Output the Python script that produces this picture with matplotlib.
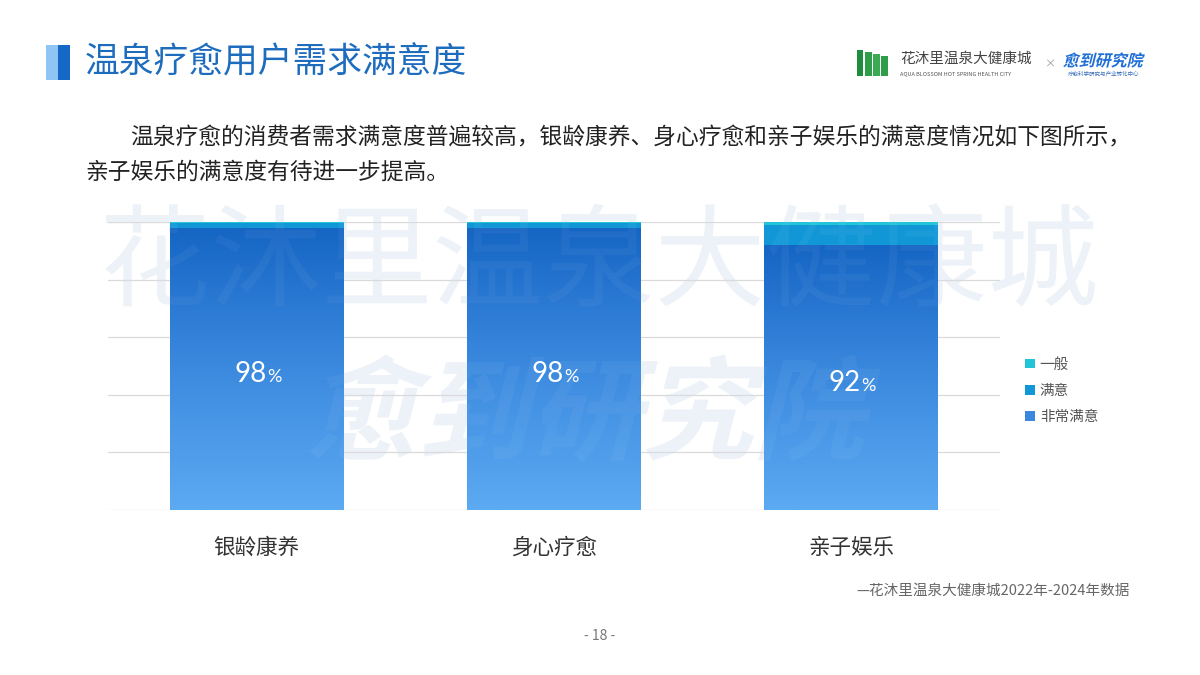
import matplotlib.pyplot as plt
import numpy as np
from matplotlib.colors import LinearSegmentedColormap
from matplotlib.patches import Rectangle, Patch, PathPatch
from matplotlib.textpath import TextPath
from matplotlib.font_manager import FontProperties
from matplotlib.transforms import Affine2D

plt.rcParams['font.family'] = ['Noto Sans CJK SC', 'DejaVu Sans']

categories = ['银龄康养', '身心疗愈', '亲子娱乐']
very_satisfied = [98, 98, 92]
satisfied = [1.5, 1.5, 7]
average = [0.5, 0.5, 1]
series_names = ['一般', '满意', '非常满意']
y_ticks = [0, 20, 40, 60, 80, 100]

title = '温泉疗愈用户需求满意度'
para1 = '温泉疗愈的消费者需求满意度普遍较高，银龄康养、身心疗愈和亲子娱乐的满意度情况如下图所示，'
para2 = '亲子娱乐的满意度有待进一步提高。'
source = '—花沐里温泉大健康城2022年-2024年数据'
page = '- 18 -'

c_avg = '#22C4D8'
c_sat = '#1197D6'
grad = LinearSegmentedColormap.from_list('g', ['#5CAAF2', '#3C8ADF', '#1565C4'])

fig = plt.figure(figsize=(12, 6.75), dpi=100)
W, H = 1200, 675


def watermark(text, cx, cy, size, weight, skew, color, alpha, z):
    prop = FontProperties(family='Noto Sans CJK SC', weight=weight)
    tp = TextPath((0, 0), text, size=size, prop=prop)
    tp = Affine2D().skew_deg(skew, 0).transform_path(tp)
    ext = tp.get_extents()
    tr = Affine2D().translate(-(ext.x0 + ext.x1) / 2, -(ext.y0 + ext.y1) / 2).translate(cx, H - cy)
    tr = tr + Affine2D().scale(1 / W, 1 / H) + fig.transFigure
    p = PathPatch(tp, transform=tr, facecolor=color, edgecolor='none', alpha=alpha, zorder=z)
    fig.add_artist(p)


# watermark layers (below and above chart)
for col, a, z in [('#EDF2F8', 1.0, -1), ('white', 0.045, 3)]:
    watermark('花沐里温泉大健康城', 600, 255, 111, 'light', 0, col, a, z)
    watermark('愈到研究院', 595, 408, 112, 'bold', 14, col, a, z)

ax = fig.add_axes([108 / W, 1 - 510 / H, 892 / W, 288 / H])
ax.set_facecolor('none')
ax.set_zorder(1)

x = np.arange(len(categories))
width = 0.585
bars = ax.bar(x, very_satisfied, width, color='#3C8ADF', zorder=2)
gimg = np.linspace(0, 1, 256).reshape(-1, 1)
for b in bars:
    im = ax.imshow(gimg, extent=[b.get_x(), b.get_x() + b.get_width(), 0, b.get_height()],
                   origin='lower', aspect='auto', cmap=grad, zorder=2.5)
    im.set_clip_path(b)
bottom2 = [v for v in very_satisfied]
ax.bar(x, satisfied, width, bottom=bottom2, color=c_sat, zorder=2)
bottom3 = [a + b for a, b in zip(very_satisfied, satisfied)]
ax.bar(x, average, width, bottom=bottom3, color=c_avg, zorder=2)

for xi, v in zip(x, very_satisfied):
    ax.annotate(str(v), (xi, v / 2), xytext=(7, -4), textcoords='offset points',
                ha='right', va='center', color='white', fontsize=20, family='Lato',
                zorder=4)
    ax.annotate('%', (xi, v / 2), xytext=(7.5, -6), textcoords='offset points',
                ha='left', va='center', color='white', fontsize=13, family='Lato',
                zorder=4)

ax.set_xlim(-0.5, 2.5)
ax.set_ylim(0, 100)
ax.set_yticks(y_ticks)
ax.yaxis.grid(True, color='#DADADA', linewidth=0.9, zorder=0)
ax.set_axisbelow(True)
ax.tick_params(axis='y', left=False, labelleft=False)
ax.tick_params(axis='x', bottom=False, pad=16, labelsize=15.5, labelcolor='#333333')
ax.set_xticks(x)
ax.set_xticklabels(categories)
for s in ax.spines.values():
    s.set_visible(False)

handles = [Patch(facecolor=c_avg), Patch(facecolor=c_sat), Patch(facecolor='#3C86DE')]
fig.legend(handles, series_names, loc='center left', bbox_to_anchor=(1012 / W, 1 - 391 / H),
           frameon=False, fontsize=10.5, labelcolor='#555555', handlelength=0.65,
           handleheight=0.65, handletextpad=0.35, labelspacing=0.85)

# title block
fig.add_artist(Rectangle((46 / W, 1 - 80 / H), 12 / W, 35 / H, transform=fig.transFigure,
                         facecolor='#8EC5F5', edgecolor='none'))
fig.add_artist(Rectangle((58 / W, 1 - 80 / H), 12 / W, 35 / H, transform=fig.transFigure,
                         facecolor='#1668C6', edgecolor='none'))
fig.text(85 / W, 1 - 63 / H, title, fontsize=25, color='#1E6CBE', va='center', ha='left')

fig.text(130 / W, 1 - 138 / H, para1, fontsize=16.4, color='#222222', va='center', ha='left')
fig.text(85 / W, 1 - 172 / H, para2, fontsize=16.4, color='#222222', va='center', ha='left')

# logos top right
for i, (hh, cc) in enumerate([(26, '#1E8E3E'), (24, '#2E9E4A'), (22, '#3BAA55'), (20, '#2E9E4A')]):
    fig.add_artist(Rectangle(((857 + i * 8) / W, 1 - 76 / H), 6.5 / W, hh / H,
                             transform=fig.transFigure, facecolor=cc, edgecolor='none'))
fig.text(900 / W, 1 - 59 / H, '花沐里温泉大健康城', fontsize=10.5, color='#444444', va='center',
         fontweight='light')
fig.text(900 / W, 1 - 74 / H, 'AQUA BLOSSOM HOT SPRING HEALTH CITY', fontsize=4, color='#555555',
         va='center')
fig.text(1050 / W, 1 - 64 / H, '×', fontsize=8, color='#999999', va='center', ha='center')
watermark('愈到研究院', 1104, 60, 16, 'bold', 14, '#1F6FD6', 1.0, 5)
fig.text(1104 / W, 1 - 73 / H, '疗愈科学研究与产业转化中心', fontsize=4, color='#3A6FB8',
         va='center', ha='center')

fig.text(1130 / W, 1 - 591 / H, source, fontsize=10.5, color='#666666', va='center', ha='right')
fig.text(600 / W, 1 - 636 / H, page, fontsize=10, color='#777777', va='center', ha='center')

fig.savefig('out.png', dpi=100)
